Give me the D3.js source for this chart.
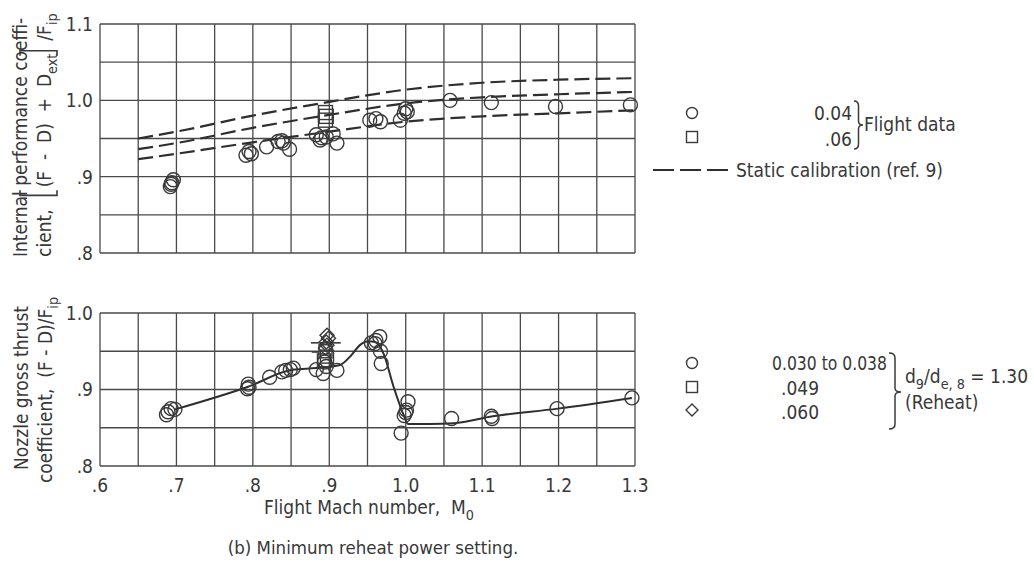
<html lang="en">
<head>
<meta charset="utf-8">
<title>Nozzle performance - minimum reheat</title>
<style>
  body { margin: 0; background: #fff; }
  svg text { font-family: "Liberation Sans Narrow", "DejaVu Sans Condensed", "Liberation Sans", sans-serif; fill: #383838; }
</style>
</head>
<body>
<div id="chart"></div>
<script src="https://cdnjs.cloudflare.com/ajax/libs/d3/7.8.5/d3.min.js"></script>
<script>

// ---- data ----
var xTicks = [0.6, 0.7, 0.8, 0.9, 1.0, 1.1, 1.2, 1.3];
var xTickLabels = [".6", ".7", ".8", ".9", "1.0", "1.1", "1.2", "1.3"];
var topTicks = [0.8, 0.9, 1.0, 1.1];
var topTickLabels = [".8", ".9", "1.0", "1.1"];
var botTicks = [0.8, 0.9, 1.0];
var botTickLabels = [".8", ".9", "1.0"];

// top panel, internal performance coefficient
var topCircleM = [0.692, 0.694, 0.696, 0.693, 0.791, 0.795, 0.798, 0.818, 0.833, 0.838, 0.840, 0.848,
                  0.883, 0.888, 0.890, 0.896, 0.905, 0.910, 0.953, 0.961, 0.967, 0.993, 0.998, 1.000,
                  1.002, 1.058, 1.112, 1.196, 1.294];
var topCircleV = [0.887, 0.892, 0.896, 0.890, 0.928, 0.933, 0.930, 0.939, 0.946, 0.947, 0.944, 0.936,
                  0.955, 0.948, 0.951, 0.952, 0.956, 0.944, 0.974, 0.976, 0.972, 0.974, 0.983, 0.989,
                  0.985, 1.000, 0.997, 0.992, 0.994];
var topSquareM = [0.895, 0.896, 0.895];
var topSquareV = [0.984, 0.979, 0.974];

// static calibration (ref. 9), three dashed curves
var calibM = [0.65, 0.70, 0.80, 0.90, 1.00, 1.10, 1.20, 1.30];
var calibUpper = [0.950, 0.959, 0.980, 0.998, 1.014, 1.023, 1.027, 1.029];
var calibMiddle = [0.936, 0.944, 0.964, 0.981, 0.996, 1.004, 1.008, 1.011];
var calibLower = [0.923, 0.930, 0.945, 0.959, 0.972, 0.979, 0.983, 0.987];

// bottom panel, nozzle gross thrust coefficient
var botCircleM = [0.687, 0.689, 0.693, 0.698, 0.793, 0.794, 0.795, 0.822, 0.838, 0.843, 0.849, 0.853,
                  0.883, 0.892, 0.896, 0.910, 0.894, 0.955, 0.961, 0.966, 0.960, 0.967, 0.968,
                  1.003, 1.001, 0.998, 0.994, 1.000, 1.060, 1.112, 1.113, 1.198, 1.296];
var botCircleV = [0.867, 0.871, 0.875, 0.874, 0.901, 0.907, 0.903, 0.916, 0.923, 0.925, 0.926, 0.928,
                  0.926, 0.921, 0.930, 0.925, 0.936, 0.961, 0.964, 0.969, 0.960, 0.950, 0.934,
                  0.884, 0.873, 0.866, 0.843, 0.870, 0.862, 0.865, 0.862, 0.875, 0.889];
var botSquareM = [0.895, 0.897, 0.893];
var botSquareV = [0.950, 0.943, 0.938];
var botDiamondM = [0.897, 0.899, 0.896, 0.897, 0.895];
var botDiamondV = [0.971, 0.967, 0.962, 0.958, 0.954];
var flagM0 = [0.876, 0.877];
var flagM1 = [0.915, 0.886];
var flagV = [0.961, 0.949];

// faired curve through the gross thrust data
var fairM = [0.698, 0.792, 0.853, 0.883, 0.914, 0.929, 0.940, 0.951, 0.960, 0.971, 0.984, 0.998,
             1.003, 1.032, 1.063, 1.114, 1.199, 1.296];
var fairV = [0.874, 0.903, 0.926, 0.928, 0.932, 0.945, 0.958, 0.963, 0.962, 0.947, 0.904, 0.865,
             0.855, 0.855, 0.856, 0.865, 0.875, 0.889];

// ---- layout ----
var W = 1034, H = 562;
var ink = "#3a3a3a";
var fs = 19;

var svg = d3.select("#chart").append("svg")
    .attr("width", W)
    .attr("height", H);

var x = d3.scaleLinear().domain([0.6, 1.3]).range([100, 635]);
var yTop = d3.scaleLinear().domain([0.8, 1.1]).range([253, 24]);
var yBot = d3.scaleLinear().domain([0.8, 1.0]).range([466, 313]);

var gridX = d3.range(0, 15).map(function(i) { return 0.6 + i * 0.05; });

function grid(y, lo, hi) {
    var g = svg.append("g");
    var gridY = d3.range(0, Math.round((hi - lo) / 0.05) + 1).map(function(i) { return lo + i * 0.05; });
    g.selectAll("line.v").data(gridX).enter().append("line")
        .attr("x1", function(d) { return x(d); }).attr("x2", function(d) { return x(d); })
        .attr("y1", y(lo)).attr("y2", y(hi))
        .attr("stroke", "#4a4a4a").attr("stroke-width", 1.3);
    g.selectAll("line.h").data(gridY).enter().append("line")
        .attr("y1", function(d) { return y(d); }).attr("y2", function(d) { return y(d); })
        .attr("x1", x(0.6)).attr("x2", x(1.3))
        .attr("stroke", "#4a4a4a").attr("stroke-width", 1.3);
}
grid(yTop, 0.8, 1.1);
grid(yBot, 0.8, 1.0);

// y tick labels
function yLabels(y, ticks, labels) {
    svg.append("g").selectAll("text").data(ticks).enter().append("text")
        .attr("x", 93)
        .attr("y", function(d) { return y(d); })
        .attr("dy", "0.36em")
        .attr("text-anchor", "end")
        .style("font-size", fs + "px")
        .text(function(d, i) { return labels[i]; });
}
yLabels(yTop, topTicks, topTickLabels);
yLabels(yBot, botTicks, botTickLabels);

svg.append("g").selectAll("text").data(xTicks).enter().append("text")
    .attr("x", function(d) { return x(d); })
    .attr("y", 485)
    .attr("dy", "0.36em")
    .attr("text-anchor", "middle")
    .style("font-size", fs + "px")
    .text(function(d, i) { return xTickLabels[i]; });

// ---- markers ----
function circles(mArr, vArr, y, r) {
    svg.append("g").selectAll("circle").data(mArr).enter().append("circle")
        .attr("cx", function(d) { return x(d); })
        .attr("cy", function(d, i) { return y(vArr[i]); })
        .attr("r", r)
        .attr("fill", "none").attr("stroke", ink).attr("stroke-width", 1.4);
}
function squares(mArr, vArr, y, s) {
    svg.append("g").selectAll("rect").data(mArr).enter().append("rect")
        .attr("x", function(d) { return x(d) - s / 2; })
        .attr("y", function(d, i) { return y(vArr[i]) - s / 2; })
        .attr("width", s).attr("height", s)
        .attr("fill", "none").attr("stroke", ink).attr("stroke-width", 1.4);
}
function diamonds(mArr, vArr, y, s) {
    svg.append("g").selectAll("path").data(mArr).enter().append("path")
        .attr("d", function(d, i) {
            var cx = x(d), cy = y(vArr[i]);
            return "M" + cx + "," + (cy - s) + "L" + (cx + s) + "," + cy + "L" + cx + "," + (cy + s) + "L" + (cx - s) + "," + cy + "Z";
        })
        .attr("fill", "none").attr("stroke", ink).attr("stroke-width", 1.4);
}

// calibration curves
var calLine = d3.line()
    .x(function(d) { return x(d[0]); })
    .y(function(d) { return yTop(d[1]); })
    .curve(d3.curveMonotoneX);
[calibUpper, calibMiddle, calibLower].forEach(function(arr) {
    svg.append("path")
        .attr("d", calLine(calibM.map(function(m, i) { return [m, arr[i]]; })))
        .attr("fill", "none").attr("stroke", "#2e2e2e")
        .attr("stroke-width", 2.2).attr("stroke-dasharray", "15,6");
});

circles(topCircleM, topCircleV, yTop, 7);
squares(topSquareM, topSquareV, yTop, 14);

// faired curve
var fairLine = d3.line()
    .x(function(d) { return x(d[0]); })
    .y(function(d) { return yBot(d[1]); })
    .curve(d3.curveMonotoneX);
svg.append("path")
    .attr("d", fairLine(fairM.map(function(m, i) { return [m, fairV[i]]; })))
    .attr("fill", "none").attr("stroke", "#2e2e2e").attr("stroke-width", 2);

circles(botCircleM, botCircleV, yBot, 7);
squares(botSquareM, botSquareV, yBot, 13);
diamonds(botDiamondM, botDiamondV, yBot, 7);
svg.append("g").selectAll("line").data(flagV).enter().append("line")
    .attr("x1", function(d, i) { return x(flagM0[i]); })
    .attr("x2", function(d, i) { return x(flagM1[i]); })
    .attr("y1", function(d) { return yBot(d); })
    .attr("y2", function(d) { return yBot(d); })
    .attr("stroke", ink).attr("stroke-width", 1.6);

// ---- rich text helper (pieces laid out one after another) ----
function rich(parent, pieces, size) {
    var g = parent.append("g");
    var pos = 0;
    pieces.forEach(function(p) {
        if (p.gap) { pos += p.gap; return; }
        if (p.bracket) {
            var bx = pos + (p.bracket === "[" ? 2 : 1);
            var dir = p.bracket === "[" ? 1 : -1;
            g.append("path")
                .attr("d", "M" + (bx + dir * 5) + "," + p.y0 + "L" + bx + "," + p.y0 + "L" + bx + "," + p.y1 + "L" + (bx + dir * 5) + "," + p.y1)
                .attr("fill", "none").attr("stroke", ink).attr("stroke-width", 1.6);
            pos += 8;
            return;
        }
        var t = g.append("text")
            .attr("x", pos)
            .attr("y", p.sub ? size * 0.3 : 0)
            .style("font-size", (p.sub ? size * 0.75 : size) + "px")
            .text(p.t);
        pos += t.node().getComputedTextLength();
    });
    return { g: g, width: pos };
}

// y axis titles
var t1 = rich(svg, [{ t: "Internal performance coeffi-" }], fs);
t1.g.attr("transform", "translate(27,257) rotate(-90)");
var t2 = rich(svg, [
    { t: "cient," }, { gap: 12 },
    { bracket: "[", y0: -31, y1: 6 }, { gap: 2 },
    { t: "(F\u00a0\u00a0-\u00a0\u00a0D)\u00a0\u00a0+\u00a0\u00a0D" }, { t: "ext", sub: true }, { gap: 2 },
    { bracket: "]", y0: -31, y1: 6 }, { gap: 3 },
    { t: "/F" }, { t: "ip", sub: true }
], fs);
t2.g.attr("transform", "translate(51,257) rotate(-90)");

var b1 = rich(svg, [{ t: "Nozzle gross thrust" }], fs);
b1.g.attr("transform", "translate(28," + (388 + b1.width / 2) + ") rotate(-90)");
var b2 = rich(svg, [{ t: "coefficient,\u00a0\u00a0(F\u00a0-\u00a0D)/F" }, { t: "ip", sub: true }], fs);
b2.g.attr("transform", "translate(52," + (390 + b2.width / 2) + ") rotate(-90)");

// x axis title and caption
var xt = rich(svg, [{ t: "Flight Mach number,\u00a0\u00a0M" }, { t: "0", sub: true }], fs);
xt.g.attr("transform", "translate(" + (369 - xt.width / 2) + ",514)");
svg.append("text")
    .attr("x", 373).attr("y", 554)
    .attr("text-anchor", "middle")
    .style("font-size", "18.5px")
    .text("(b) Minimum reheat power setting.");

// ---- legends ----
function brace(xb, y0, y1, w, ym) {
    var h = w / 2;
    return "M" + xb + "," + y0 + "Q" + (xb + h) + "," + y0 + " " + (xb + h) + "," + (y0 + 5) +
        "L" + (xb + h) + "," + (ym - 4) + "Q" + (xb + h) + "," + ym + " " + (xb + w) + "," + ym +
        "Q" + (xb + h) + "," + ym + " " + (xb + h) + "," + (ym + 4) +
        "L" + (xb + h) + "," + (y1 - 5) + "Q" + (xb + h) + "," + y1 + " " + xb + "," + y1;
}

var leg = svg.append("g");
leg.append("circle").attr("cx", 692).attr("cy", 113).attr("r", 5.5)
    .attr("fill", "none").attr("stroke", ink).attr("stroke-width", 1.4);
leg.append("rect").attr("x", 686.5).attr("y", 131.5).attr("width", 11).attr("height", 11)
    .attr("fill", "none").attr("stroke", ink).attr("stroke-width", 1.4);
leg.append("text").attr("x", 852).attr("y", 113).attr("dy", "0.36em").attr("text-anchor", "end")
    .style("font-size", fs + "px").text("0.04");
leg.append("text").attr("x", 852).attr("y", 139).attr("dy", "0.36em").attr("text-anchor", "end")
    .style("font-size", fs + "px").text(".06");
leg.append("path").attr("d", brace(854, 101, 149, 9, 125))
    .attr("fill", "none").attr("stroke", ink).attr("stroke-width", 1.5);
leg.append("text").attr("x", 864).attr("y", 124).attr("dy", "0.36em")
    .style("font-size", fs + "px").text("Flight data");
leg.append("line").attr("x1", 653).attr("x2", 733).attr("y1", 170).attr("y2", 170)
    .attr("stroke", "#2e2e2e").attr("stroke-width", 2).attr("stroke-dasharray", "21,6");
leg.append("text").attr("x", 736).attr("y", 170).attr("dy", "0.36em")
    .style("font-size", fs + "px").text("Static calibration (ref. 9)");

var leg2 = svg.append("g");
leg2.append("circle").attr("cx", 692).attr("cy", 363).attr("r", 5.5)
    .attr("fill", "none").attr("stroke", ink).attr("stroke-width", 1.4);
leg2.append("rect").attr("x", 686.5).attr("y", 381.5).attr("width", 11).attr("height", 11)
    .attr("fill", "none").attr("stroke", ink).attr("stroke-width", 1.4);
leg2.append("path").attr("d", "M692,404L698,410L692,416L686,410Z")
    .attr("fill", "none").attr("stroke", ink).attr("stroke-width", 1.4);
leg2.append("text").attr("x", 772).attr("y", 363).attr("dy", "0.36em")
    .attr("textLength", 115).attr("lengthAdjust", "spacingAndGlyphs")
    .style("font-size", fs + "px").text("0.030 to 0.038");
leg2.append("text").attr("x", 781).attr("y", 388).attr("dy", "0.36em")
    .style("font-size", fs + "px").text(".049");
leg2.append("text").attr("x", 781).attr("y", 412).attr("dy", "0.36em")
    .style("font-size", fs + "px").text(".060");
leg2.append("path").attr("d", brace(889, 353, 429, 12, 392))
    .attr("fill", "none").attr("stroke", ink).attr("stroke-width", 1.5);
var dl = rich(leg2, [{ t: "d" }, { t: "9", sub: true }, { t: "/d" }, { t: "e, 8", sub: true }, { t: "\u00a0=\u00a01.30" }], fs);
dl.g.attr("transform", "translate(905,383)");
leg2.append("text").attr("x", 905).attr("y", 402).attr("dy", "0.36em")
    .style("font-size", fs + "px").text("(Reheat)");

</script>
</body>
</html>
